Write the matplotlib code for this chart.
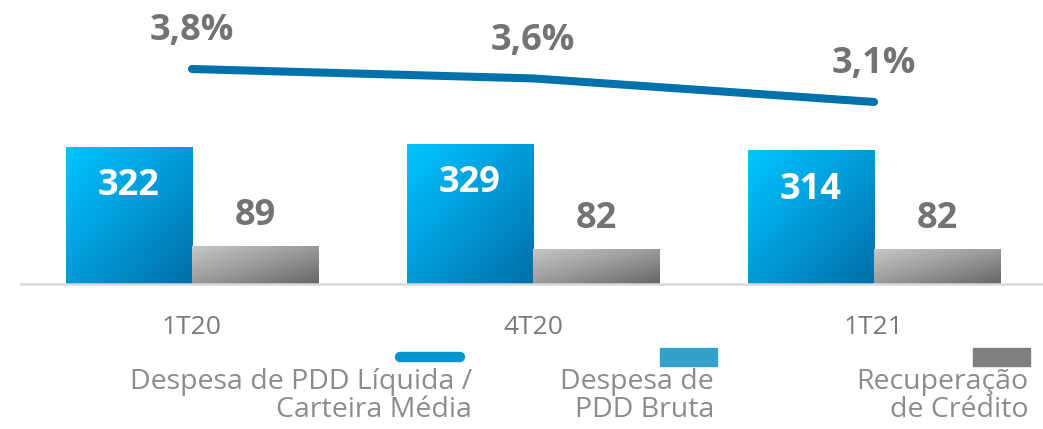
import matplotlib
matplotlib.use("Agg")
import matplotlib.pyplot as plt
import numpy as np
from matplotlib.colors import LinearSegmentedColormap
from matplotlib.lines import Line2D
from matplotlib.patches import Rectangle

plt.rcParams['font.family'] = ['Open Sans', 'DejaVu Sans']

# data
periods = ["1T20", "4T20", "1T21"]
pdd_bruta = [322, 329, 314]
recuperacao = [89, 82, 82]
pdd_liq_ratio = [3.8, 3.6, 3.1]
ratio_labels = ["3,8%", "3,6%", "3,1%"]
series_names = ["Despesa de PDD Líquida /\nCarteira Média",
                "Despesa de\nPDD Bruta",
                "Recuperação\nde Crédito"]

W, H = 1043, 429
fig = plt.figure(figsize=(W / 100, H / 100), dpi=100)

# main axes placed in pixel terms: left 21px, baseline at y=284
ax = fig.add_axes([21 / W, (H - 284) / H, (W - 21) / W, 284 / H])

blue_cmap = LinearSegmentedColormap.from_list("b", ["#00c6ff", "#009ad8", "#006ea6"])
grey_cmap = LinearSegmentedColormap.from_list("g", ["#c6c6c6", "#9a9a9a", "#666666"])

def grad_bar(ax, x0, w, h, cmap):
    rect = Rectangle((x0, 0), w, h, facecolor="none", edgecolor="none")
    ax.add_patch(rect)
    u = np.linspace(0, 1, 100)
    U, V = np.meshgrid(u, u)
    T = (U + V) / 2  # row 0 at top with origin='upper'
    im = ax.imshow(T, cmap=cmap, extent=[x0, x0 + w, 0, h], aspect="auto",
                   origin="upper", vmin=0, vmax=1, zorder=2)
    im.set_clip_path(rect)
    return rect

bw = 126.5 / 341
x = np.arange(len(periods))
for i in range(len(periods)):
    grad_bar(ax, x[i] - bw, bw, pdd_bruta[i], blue_cmap)
    grad_bar(ax, x[i], bw, recuperacao[i], grey_cmap)
    ax.annotate(str(pdd_bruta[i]), (x[i] - bw / 2, pdd_bruta[i]), xytext=(0, -28.5),
                textcoords="offset points", ha="center", va="center",
                fontsize=26, fontweight="bold", color="white", zorder=5)
    ax.annotate(str(recuperacao[i]), (x[i] + bw / 2, recuperacao[i]), xytext=(0, 21.5),
                textcoords="offset points", ha="center", va="center",
                fontsize=26, fontweight="bold", color="#737373", zorder=5)

ax.set_xlim(-171 / 341, 851 / 341)
ax.set_ylim(0, 667)
for s in ["top", "left", "right"]:
    ax.spines[s].set_visible(False)
ax.spines["bottom"].set_color("#d9d9d9")
ax.spines["bottom"].set_linewidth(1.8)
ax.set_yticks([])
ax.set_xticks(x)
ax.set_xticklabels(periods, fontsize=19, color="#7a7a7a")
ax.tick_params(axis="x", length=0, pad=22)

# secondary axis for ratio line
ax2 = ax.twinx()
ax2.set_ylim(-0.765, 5.265)
ax2.plot(x, pdd_liq_ratio, color="#0071aa", lw=5.8, solid_capstyle="round", zorder=4)
for i in range(len(x)):
    ax2.annotate(ratio_labels[i], (x[i], pdd_liq_ratio[i]), xytext=(0, 27),
                 textcoords="offset points", ha="center", va="center",
                 fontsize=26, fontweight="bold", color="#737373")
ax2.set_axis_off()
ax2.set_xlim(-171 / 341, 851 / 341)

# legend in pixel coordinates
lg = fig.add_axes([0, 0, 1, 1], zorder=-1)
lg.set_xlim(0, W)
lg.set_ylim(H, 0)
lg.set_axis_off()
lg.add_line(Line2D([400, 460], [357, 357], color="#0095cf", lw=7.5, solid_capstyle="round"))
lg.add_patch(Rectangle((660, 348), 57, 18, color="#33a1c9"))
lg.add_patch(Rectangle((973, 348), 57, 18, color="#7f7f7f"))
text_right = [472, 714, 1028]
for name, xr in zip(series_names, text_right):
    lg.text(xr, 368, name, ha="right", va="top", fontsize=20.5, color="#8c8c8c",
            linespacing=0.98)

fig.savefig("out.png", dpi=100)
